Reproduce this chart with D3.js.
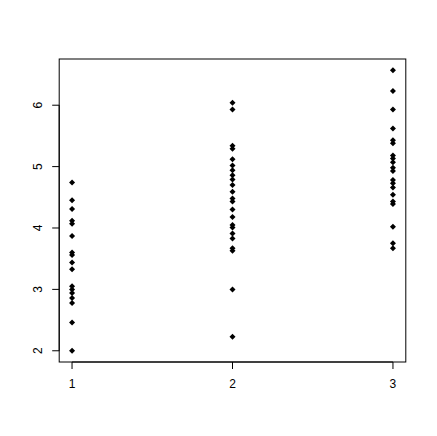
<!DOCTYPE html>
<html><head><meta charset="utf-8">
<script src="https://cdn.jsdelivr.net/npm/d3@7"></script>
<style>body{margin:0;background:#fff}svg{display:block}</style>
</head><body>
<svg id="c" width="437" height="436"></svg>
<script>
const group1 = [4.74,4.45,4.31,4.12,4.07,3.87,3.60,3.56,3.44,3.33,3.05,3.00,2.94,2.86,2.78,2.46,2.00];
const group2 = [6.04,5.93,5.34,5.29,5.12,5.02,4.94,4.86,4.79,4.70,4.59,4.48,4.43,4.30,4.18,4.05,4.01,3.91,3.83,3.67,3.63,3.00,2.23];
const group3 = [6.57,6.23,5.93,5.62,5.43,5.38,5.18,5.13,5.07,4.98,4.93,4.78,4.73,4.66,4.54,4.43,4.39,4.02,3.75,3.67];
const groups = [1,2,3];
const xTicks = [1,2,3];
const yTicks = [2,3,4,5,6];

const svg = d3.select("#c");
const L=59.2, R=405.8, T=59, B=362;
const x = d3.scaleLinear().domain([0.92,3.08]).range([L,R]);
const yMin=2.0, yMax=6.57, r=yMax-yMin;
const y = d3.scaleLinear().domain([yMin-0.04*r, yMax+0.04*r]).range([B,T]);

const font = "'Liberation Sans', Arial, Helvetica, sans-serif";

svg.append("rect").attr("x",L).attr("y",T).attr("width",R-L).attr("height",B-T)
  .attr("fill","none").attr("stroke","#000").attr("stroke-width",1);

const xa = svg.append("g").attr("transform",`translate(0,${B})`);
xa.append("line").attr("x1",x(1)).attr("x2",x(3)).attr("stroke","#000");
xTicks.forEach(t=>{
  xa.append("line").attr("x1",x(t)).attr("x2",x(t)).attr("y1",0).attr("y2",7).attr("stroke","#000");
  xa.append("text").attr("x",x(t)).attr("y",26).attr("text-anchor","middle")
    .attr("font-family",font).attr("font-size",12).text(t);
});

const ya = svg.append("g").attr("transform",`translate(${L},0)`);
ya.append("line").attr("y1",y(2)).attr("y2",y(6)).attr("stroke","#000");
yTicks.forEach(t=>{
  ya.append("line").attr("x1",0).attr("x2",-7).attr("y1",y(t)).attr("y2",y(t)).attr("stroke","#000");
  ya.append("text").attr("transform",`translate(-17,${y(t)}) rotate(-90)`)
    .attr("text-anchor","middle").attr("font-family",font).attr("font-size",12).text(t);
});

const data = [];
[group1,group2,group3].forEach((g,i)=>g.forEach(v=>data.push({g:groups[i],v})));
const rad = 3;
const diamond = `M0,${-rad}L${rad},0L0,${rad}L${-rad},0Z`;
svg.append("g").selectAll("path").data(data).join("path")
  .attr("d",diamond)
  .attr("transform",d=>`translate(${x(d.g)},${y(d.v)})`)
  .attr("fill","#000");
</script>
</body></html>
